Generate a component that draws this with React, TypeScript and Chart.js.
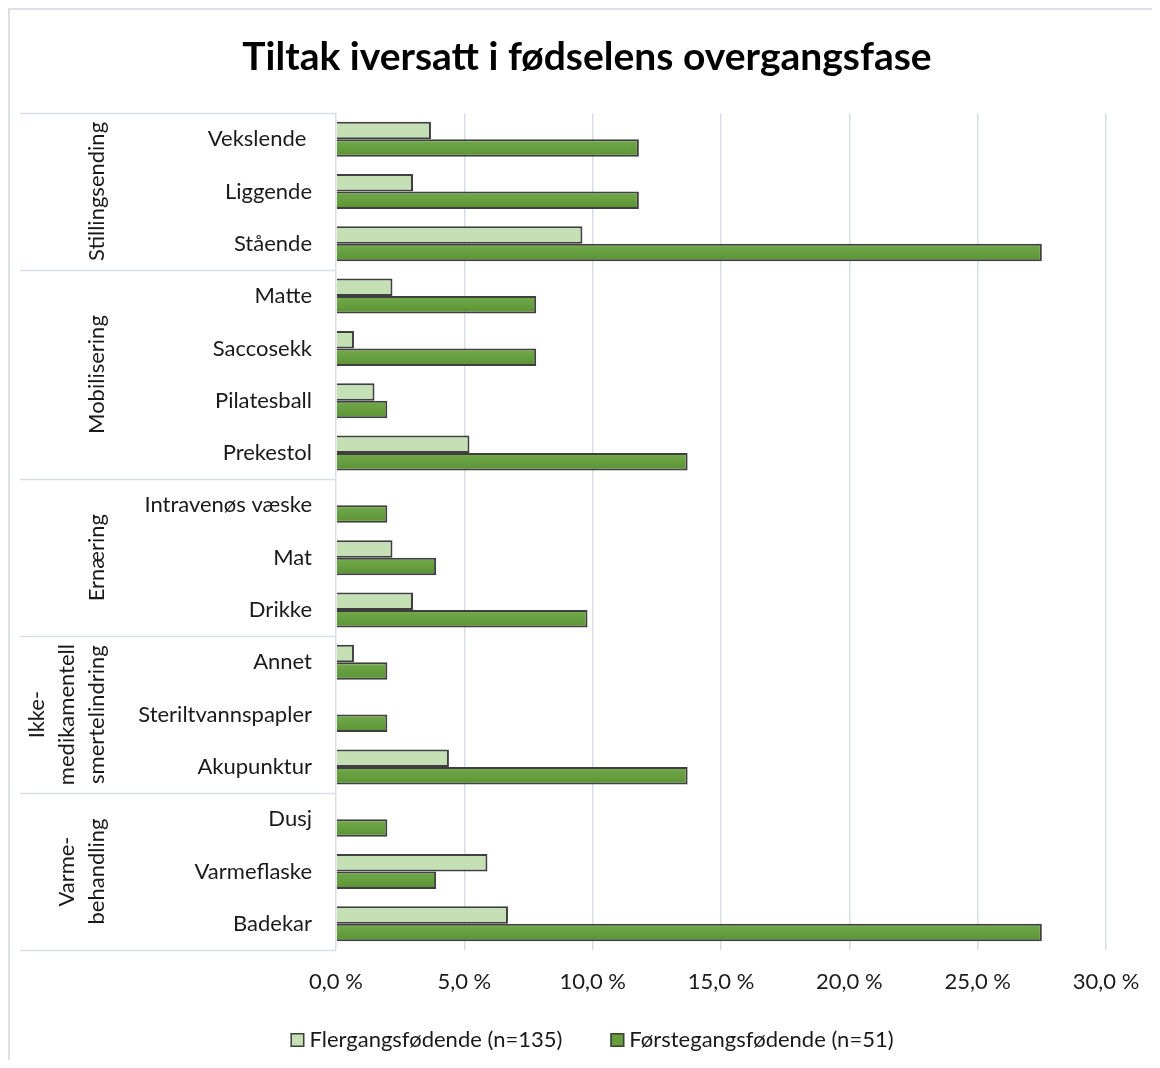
import React, { useEffect, useRef } from 'react';
import { Chart, registerables } from 'chart.js';

Chart.register(...registerables);

const titleText = 'Tiltak iversatt i fødselens overgangsfase';

const categories = [
  'Vekslende ',
  'Liggende',
  'Stående',
  'Matte',
  'Saccosekk',
  'Pilatesball',
  'Prekestol',
  'Intravenøs væske',
  'Mat',
  'Drikke',
  'Annet',
  'Steriltvannspapler',
  'Akupunktur',
  'Dusj',
  'Varmeflaske',
  'Badekar',
];

const groupLabels = [
  ['Stillingsending'],
  ['Mobilisering'],
  ['Ernæring'],
  ['Ikke-', 'medikamentell', 'smertelindring'],
  ['Varme-', 'behandling'],
];
const groupSizes = [3, 4, 3, 3, 3];

const seriesNames = ['Flergangsfødende (n=135)', 'Førstegangsfødende (n=51)'];

const flergangs = [3.7, 3.0, 9.6, 2.2, 0.7, 1.5, 5.2, 0, 2.2, 3.0, 0.7, 0, 4.4, 0, 5.9, 6.7];
const forstegangs = [11.8, 11.8, 27.5, 7.8, 7.8, 2.0, 13.7, 2.0, 3.9, 9.8, 2.0, 2.0, 13.7, 2.0, 3.9, 27.5];

const xMin = 0;
const xMax = 30;
const xStep = 5;

const CAT_PCT = 0.67;
const lightColor = '#c5e0b4';
const darkColor = '#649f3c';
const darkTop = '#73ac4d';
const darkBottom = '#5a9232';
const edgeColor = '#3f3f3f';
const gridColor = '#d9dee6';
const frameColor = '#dde1e6';
const textColor = '#1a1a1a';
const FONT = 'Lato';

const darkFill = (c: any) => {
  const chart = c.chart;
  const y = chart?.scales?.y;
  if (!y || !isFinite(y.top) || !(y.bottom > y.top) || c.dataIndex === undefined) return darkColor;
  const step = (y.bottom - y.top) / categories.length;
  const center = y.getPixelForValue(c.dataIndex);
  const h = (step * CAT_PCT) / 2;
  const top = center;
  const bot = center + h;
  if (!isFinite(top) || !isFinite(bot)) return darkColor;
  const g = chart.ctx.createLinearGradient(0, top, 0, bot);
  g.addColorStop(0, darkTop);
  g.addColorStop(1, darkBottom);
  return g;
};

const decorPlugin = {
  id: 'decor',
  beforeDraw(chart: any) {
    const { ctx, width, height } = chart;
    ctx.save();
    ctx.strokeStyle = frameColor;
    ctx.lineWidth = 2;
    ctx.beginPath();
    ctx.moveTo(1, height);
    ctx.lineTo(1, 1);
    ctx.lineTo(width, 1);
    ctx.stroke();
    ctx.restore();
  },
  beforeDatasetsDraw(chart: any) {
    const { ctx, chartArea } = chart;
    const y = chart.scales.y;
    ctx.save();
    ctx.strokeStyle = gridColor;
    ctx.lineWidth = 1.5;
    let idx = 0;
    const bounds: number[] = [-0.5];
    groupSizes.forEach((n) => {
      idx += n;
      bounds.push(idx - 0.5);
    });
    bounds.forEach((b) => {
      const py = Math.round(y.getPixelForValue(b)) + 0.5;
      ctx.beginPath();
      ctx.moveTo(12, py);
      ctx.lineTo(chartArea.left, py);
      ctx.stroke();
    });
    ctx.restore();
  },
  afterDraw(chart: any) {
    const { ctx } = chart;
    const y = chart.scales.y;
    ctx.save();
    // title
    ctx.fillStyle = '#000';
    ctx.font = `bold 39px ${FONT}`;
    ctx.textAlign = 'center';
    ctx.textBaseline = 'middle';
    ctx.fillText(titleText, 579, 49);

    // group labels
    ctx.font = `22px ${FONT}`;
    ctx.fillStyle = textColor;
    let start = 0;
    groupSizes.forEach((n, g) => {
      const top = y.getPixelForValue(start - 0.5);
      const bot = y.getPixelForValue(start + n - 0.5);
      const yc = (top + bot) / 2;
      const lines = groupLabels[g];
      lines.forEach((line, i) => {
        const x = 89 - (lines.length - 1 - i) * 30;
        ctx.save();
        ctx.translate(x, yc);
        ctx.rotate(-Math.PI / 2);
        ctx.textAlign = 'center';
        ctx.textBaseline = 'middle';
        ctx.fillText(line, 0, 0);
        ctx.restore();
      });
      start += n;
    });

    // legend
    ctx.font = `22px ${FONT}`;
    const box = 14;
    const gap = 5;
    const spacing = 48;
    const w1 = ctx.measureText(seriesNames[0]).width;
    const w2 = ctx.measureText(seriesNames[1]).width;
    const total = box + gap + w1 + spacing + box + gap + w2;
    let lx = 584 - total / 2;
    const ly = 1032;
    const colors = [lightColor, darkColor];
    const widths = [w1, w2];
    ctx.textAlign = 'left';
    ctx.textBaseline = 'middle';
    for (let i = 0; i < 2; i++) {
      ctx.fillStyle = colors[i];
      ctx.fillRect(lx, ly - box / 2, box, box);
      ctx.strokeStyle = edgeColor;
      ctx.lineWidth = 1.5;
      ctx.strokeRect(lx + 0.75, ly - box / 2 + 0.75, box - 1.5, box - 1.5);
      ctx.fillStyle = textColor;
      ctx.fillText(seriesNames[i], lx + box + gap, ly);
      lx += box + gap + widths[i] + spacing;
    }
    ctx.restore();
  },
};

export default function App() {
  const canvasRef = useRef<HTMLCanvasElement | null>(null);

  useEffect(() => {
    const canvas = canvasRef.current;
    if (!canvas) return;
    const chart = new Chart(canvas, {
      type: 'bar',
      data: {
        labels: categories,
        datasets: [
          {
            label: seriesNames[0],
            data: flergangs,
            backgroundColor: lightColor,
            borderColor: edgeColor,
            borderWidth: 2,
            categoryPercentage: CAT_PCT,
            barPercentage: 1,
          },
          {
            label: seriesNames[1],
            data: forstegangs,
            backgroundColor: darkFill,
            borderColor: edgeColor,
            borderWidth: 2,
            categoryPercentage: CAT_PCT,
            barPercentage: 1,
          },
        ],
      },
      options: {
        indexAxis: 'y',
        animation: false,
        responsive: false,
        maintainAspectRatio: false,
        devicePixelRatio: 1,
        layout: { padding: { top: 105, left: 12, right: 54, bottom: 50 } },
        plugins: {
          legend: { display: false },
          title: { display: false },
          tooltip: { enabled: false },
        },
        scales: {
          x: {
            type: 'linear',
            min: xMin,
            max: xMax,
            ticks: {
              stepSize: xStep,
              padding: 19,
              color: textColor,
              font: { family: FONT, size: 22 },
              callback: (v: any) => Number(v).toFixed(1).replace('.', ',') + ' %',
            },
            grid: { color: gridColor, lineWidth: 1.5, drawTicks: false },
            border: { display: false },
            afterFit: (s: any) => {
              s.height = 60;
            },
          },
          y: {
            type: 'category',
            ticks: {
              padding: 24,
              autoSkip: false,
              color: textColor,
              font: { family: FONT, size: 22 },
            },
            grid: { display: false, drawTicks: false },
            border: { display: false },
            afterFit: (s: any) => {
              s.width = 316;
            },
          },
        },
      },
      plugins: [decorPlugin],
    });
    return () => chart.destroy();
  }, []);

  return (
    <div style={{ width: 1152, height: 1052, background: '#fff' }}>
      <canvas ref={canvasRef} width={1152} height={1052} style={{ display: 'block' }} />
    </div>
  );
}
